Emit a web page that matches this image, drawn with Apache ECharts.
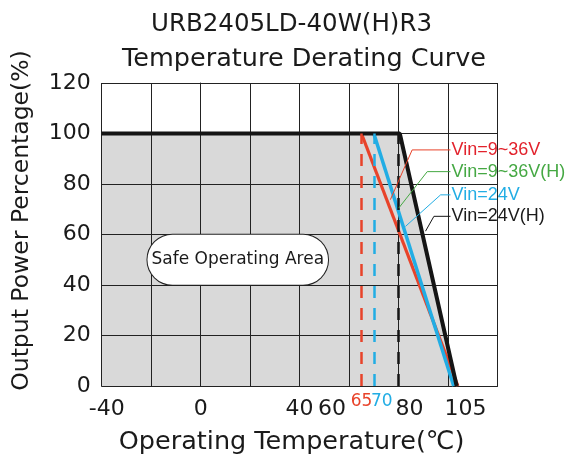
<!DOCTYPE html>
<html><head><meta charset="utf-8">
<script src="https://cdn.jsdelivr.net/npm/echarts@6/dist/echarts.min.js"></script>
<style>html,body{margin:0;padding:0;background:#fff}#c{width:571px;height:463px}</style>
</head><body><div id="c"></div>
<script>
const titleLine1 = 'URB2405LD-40W(H)R3';
const titleLine2 = 'Temperature Derating Curve';
const xAxisName = 'Operating Temperature(℃)';
const yAxisName = 'Output Power Percentage(%)';
const xMainLabels = [-40, 0, 40, 60, 80, 105];
const xMarkLabels = [65, 70];
const seriesNames = ['Vin=9~36V', 'Vin=9~36V(H)', 'Vin=24V', 'Vin=24V(H)'];
const curveRed = [[65, 100], [104, 0]];
const curveBlue = [[70, 100], [102.3, 0]];
const curveBlack = [[-40, 100], [80.5, 100], [103.5, 0]];
const dashRed = 65, dashBlue = 70, dashBlack = 80;
const leaderRed = [[76.7, 73.8], [85.5, 93.5], [101, 93.5]];
const leaderGreen = [[80.1, 70.5], [91.6, 84.9], [101, 84.9]];
const leaderBlue = [[82.8, 63.2], [97, 75.7], [101, 75.7]];
const leaderBlack = [[90.9, 61.3], [94.3, 67.2], [101, 67.2]];
const safeLabel = 'Safe Operating Area';
const safePoint = [15, 50];

const FONT = 'DejaVu Sans';
const RED = '#e8432a', BLUE = '#22ade4', BLACK = '#151515', GREEN = '#45a843';
const RED_T = '#e2222c';

const chart = echarts.init(document.getElementById('c'), null, {renderer: 'canvas'});

function leader(name, data, color, textColor) {
  return {
    type: 'line', name: name, xAxisIndex: 0, yAxisIndex: 0, data: data,
    symbol: 'none', silent: true, z: 5,
    lineStyle: {color: color, width: 1},
    endLabel: {show: true, formatter: name, color: textColor, fontSize: 18,
      fontFamily: 'Liberation Sans', distance: 1}
  };
}
function dashLine(x) {
  return [{coord: [x, 0]}, {coord: [x, 100]}];
}

const option = {
  backgroundColor: '#fff',
  animation: false,
  title: [
    {text: titleLine1, left: 286.5, top: 7, textAlign: 'center',
      textStyle: {fontFamily: FONT, fontSize: 24.5, fontWeight: 'normal', color: '#1a1a1a'}},
    {text: titleLine2, left: 299, top: 41, textAlign: 'center',
      textStyle: {fontFamily: FONT, fontSize: 25.5, fontWeight: 'normal', color: '#1a1a1a'}}
  ],
  grid: {left: 101.7, right: 73.5, top: 83, bottom: 77, containLabel: false},
  xAxis: [
    {type: 'value', min: -40, max: 120, interval: 20, position: 'bottom',
      axisLine: {show: true, lineStyle: {color: '#222', width: 1}},
      axisTick: {show: false}, axisLabel: {show: false},
      splitLine: {show: true, lineStyle: {color: '#222', width: 1}},
      name: xAxisName, nameLocation: 'middle', nameGap: 43,
      nameTextStyle: {fontFamily: FONT, fontSize: 25.5, color: '#1a1a1a', padding: [0, 16, 0, 0]}},
    {type: 'value', min: -40, max: 120, interval: 5, position: 'bottom',
      axisLine: {show: false}, axisTick: {show: false}, splitLine: {show: false},
      axisLabel: {show: true, margin: 12, fontFamily: FONT, fontSize: 22, color: '#1a1a1a',
        formatter: function (v) {
          if (xMainLabels.indexOf(v) < 0) return '';
          if (v === 60) return '{l|' + v + '}';
          if (v === 80) return '{r|' + v + '}';
          if (v === 105 || v === -40) return '{s|' + v + '}';
          return '{n|' + v + '}';
        },
        rich: {
          n: {fontFamily: FONT, fontSize: 22, color: '#1a1a1a'},
          l: {fontFamily: FONT, fontSize: 22, color: '#1a1a1a', padding: [0, 34, 0, 0]},
          r: {fontFamily: FONT, fontSize: 22, color: '#1a1a1a', padding: [0, 0, 0, 22]},
          s: {fontFamily: FONT, fontSize: 22, color: '#1a1a1a', padding: [0, 0, 0, 10]}
        }}},
    {type: 'value', min: -40, max: 120, interval: 5, position: 'bottom',
      axisLine: {show: false}, axisTick: {show: false}, splitLine: {show: false},
      axisLabel: {show: true, margin: 7, fontFamily: FONT, fontSize: 17,
        formatter: function (v) {
          if (xMarkLabels.indexOf(v) < 0) return '';
          return v === 65 ? '{a|' + v + '}' : '{b|' + v + '}';
        },
        rich: {
          a: {fontFamily: FONT, fontSize: 17, color: RED},
          b: {fontFamily: FONT, fontSize: 17, color: BLUE, padding: [0, 0, 0, 16]}
        }}}
  ],
  yAxis: {type: 'value', min: 0, max: 120, interval: 20,
    axisLine: {show: true, lineStyle: {color: '#222', width: 1}},
    axisTick: {show: false},
    axisLabel: {margin: 11, fontFamily: FONT, fontSize: 22, color: '#1a1a1a'},
    splitLine: {show: true, lineStyle: {color: '#222', width: 1}},
    name: yAxisName, nameLocation: 'middle', nameGap: 68, nameRotate: 90,
    nameTextStyle: {fontFamily: FONT, fontSize: 23.5, color: '#1a1a1a', padding: [0, 0, 0, 28]}
  },
  series: [
    {type: 'line', name: 'area', data: curveBlack, symbol: 'none', z: -1, silent: true,
      lineStyle: {width: 0}, areaStyle: {color: '#d9d9d9', opacity: 1, origin: 'start'}},
    {type: 'line', name: seriesNames[0], data: curveRed, symbol: 'none', z: 3,
      lineStyle: {color: RED, width: 3.2},
      markLine: {silent: true, symbol: 'none', label: {show: false},
        lineStyle: {color: RED, width: 2.5, type: [12, 10]}, data: [dashLine(dashRed)]}},
    {type: 'line', name: seriesNames[2], data: curveBlue, symbol: 'none', z: 4,
      lineStyle: {color: BLUE, width: 3.5},
      markLine: {silent: true, symbol: 'none', label: {show: false},
        lineStyle: {color: BLUE, width: 2.5, type: [12, 10]}, data: [dashLine(dashBlue)]}},
    {type: 'line', name: seriesNames[3], data: curveBlack, symbol: 'none', z: 4,
      lineStyle: {color: BLACK, width: 4},
      markLine: {silent: true, symbol: 'none', label: {show: false},
        lineStyle: {color: BLACK, width: 2.5, type: [12, 10]}, data: [dashLine(dashBlack)]},
      markPoint: {silent: true, symbol: 'circle', symbolSize: 0,
        data: [{coord: safePoint, value: safeLabel}],
        label: {show: true, position: 'inside', formatter: safeLabel, fontFamily: FONT, fontSize: 17,
          color: '#1a1a1a', backgroundColor: '#fff', borderColor: '#222', borderWidth: 1,
          borderRadius: 26, padding: [17, 4, 16, 4]}}},
    leader(seriesNames[0], leaderRed, RED, RED_T),
    leader(seriesNames[1], leaderGreen, GREEN, GREEN),
    leader(seriesNames[2], leaderBlue, BLUE, BLUE),
    leader(seriesNames[3], leaderBlack, BLACK, '#1a1a1a')
  ]
};
chart.setOption(option);
</script></body></html>
